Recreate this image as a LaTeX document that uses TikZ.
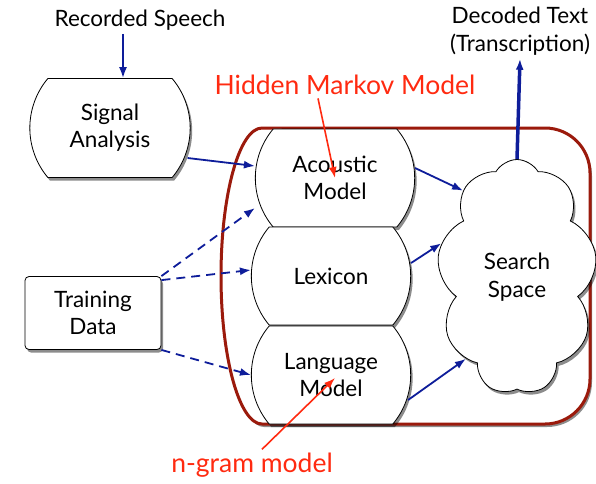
\documentclass[tikz,border=0pt]{standalone}
\usepackage{fontspec}
\setmainfont{Lato}
\usetikzlibrary{shapes.misc,shapes.symbols,arrows.meta,shadows}

\definecolor{flowblue}{HTML}{0E1D9A}
\definecolor{notered}{HTML}{FF2A10}
\definecolor{boxred}{HTML}{9B1A0C}

\begin{document}
\begin{tikzpicture}[
    x=1pt, y=-1pt,
    softshadow/.style={drop shadow={shadow xshift=2pt, shadow yshift=-3pt, opacity=0.45, fill=black}},
    stagebox/.style={rounded rectangle, rounded rectangle arc length=80, draw=black, fill=white, line width=0.8pt, softshadow, minimum width=166pt, minimum height=98pt, align=center, font=\fontsize{22.5}{27}\selectfont},
    databox/.style={rectangle, rounded corners=4pt, draw=black, fill=white, line width=0.8pt, softshadow, minimum width=136pt, minimum height=73pt, align=center, font=\fontsize{22.5}{27}\selectfont},
    plain/.style={align=center, font=\fontsize{22.5}{28}\selectfont},
    note/.style={text=notered, font=\fontsize{26.5}{30}\selectfont},
    flow/.style={-{Latex[length=11pt, width=8pt]}, line width=1.8pt, draw=flowblue},
    dashflow/.style={flow, dash pattern=on 9pt off 6pt},
    notearrow/.style={-{Latex[length=11pt, width=8pt]}, line width=1.6pt, draw=notered}
]
\useasboundingbox (0,0) rectangle (596,483);

% === Container round the three models ===
\draw[line width=3pt, draw=boxred, fill=white, softshadow]
    (262,128) -- (545,128) arc[start angle=90, end angle=0, radius=45pt]
    -- (590,379) arc[start angle=0, end angle=-90, radius=45pt]
    -- (262,424) arc[start angle=270, end angle=90, x radius=41pt, y radius=148pt] -- cycle;

% === Inputs (left) ===
\node[plain] (recorded) at (140,20) {Recorded Speech};
\node[stagebox, minimum width=167pt, minimum height=99pt] (signal) at (110,128) {Signal\\Analysis};
\node[databox] (training) at (93,313) {Training\\Data};

% === Models ===
\node[stagebox] (acoustic) at (335,178) {Acoustic\\Model};
\node[stagebox] (lexicon) at (331,276) {Lexicon};
\node[stagebox] (language) at (331,375) {Language\\Model};

% === Search and output ===
\node[cloud, cloud puffs=9, cloud puff arc=120, aspect=0.57, draw=black, fill=white, line width=0.8pt, softshadow, minimum width=160pt, minimum height=235pt, align=center, font=\fontsize{22.5}{28}\selectfont] (search) at (517,277) {Search\\Space};
\node[plain] (decoded) at (520,31) {Decoded Text\\(Transcription)};

% === Connectors ===
\draw[flow] ([xshift=-17pt]recorded.south) -- ([xshift=13pt]signal.north);
\draw[flow] ([xshift=-3pt, yshift=-30pt]signal.east) -- ([yshift=12pt]acoustic.west);
\draw[dashflow] (training.north east) -- ([yshift=-30pt]acoustic.west);
\draw[dashflow] ([yshift=-4pt]training.north east) -- ([yshift=6pt]lexicon.west);
\draw[dashflow] (training.south east) -- (language.west);
\draw[flow] ([yshift=10pt]acoustic.east) -- (search.122);
\draw[flow] ([yshift=13pt]lexicon.east) -- (search.156);
\draw[flow] ([xshift=-3pt, yshift=-25pt]language.east) -- (search.238);
\draw[flow, line width=3.5pt] (search.north) -- (decoded.south);

% === Annotations ===
\node[note] (hmm) at (345,85) {Hidden Markov Model};
\node[note] (ngram) at (252,465) {n-gram model};
\draw[notearrow] ([xshift=-27pt]hmm.south) -- (acoustic.center);
\draw[notearrow] ([xshift=10pt]ngram.north) -- ([xshift=4pt, yshift=-3pt]language.center);

\end{tikzpicture}
\end{document}
